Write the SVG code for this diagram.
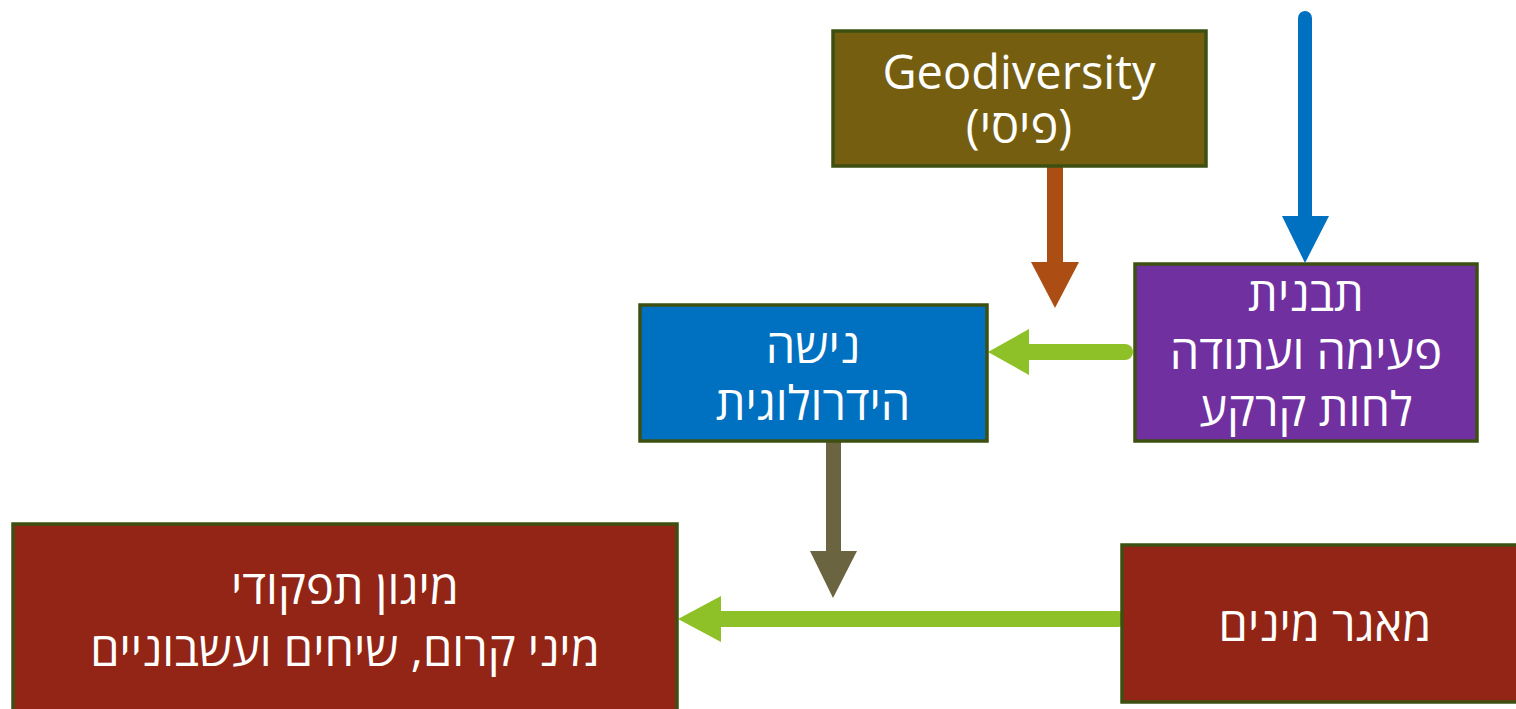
<svg xmlns="http://www.w3.org/2000/svg" width="1516" height="709" viewBox="0 0 1516 709">
<style>
.box{stroke:#3D5011;stroke-width:3.5}
.t{fill:#fff;font-family:"Open Sans","Noto Sans","DejaVu Sans",sans-serif;font-size:47px;text-anchor:middle}
</style>
<rect width="1516" height="709" fill="#fff"/>
<g id="connectors">
<rect x="1047" y="166" width="16" height="97" fill="#AC4E14"/>
<polygon points="1031,262 1079,262 1055,308" fill="#AC4E14"/>
<line x1="1305" y1="18" x2="1305" y2="220" stroke="#0070C0" stroke-width="14" stroke-linecap="round"/>
<polygon points="1282,216 1329,216 1305,263" fill="#0070C0"/>
<line x1="1125" y1="352" x2="1025" y2="352" stroke="#8DC127" stroke-width="16" stroke-linecap="round"/>
<polygon points="1029,329 1029,375 988,352" fill="#8DC127"/>
<rect x="826" y="441" width="15" height="112" fill="#6B6441"/>
<polygon points="810,551 857,551 833,598" fill="#6B6441"/>
<line x1="1118" y1="619" x2="715" y2="619" stroke="#8DC127" stroke-width="16" stroke-linecap="round"/>
<polygon points="721,596 721,642 678,619" fill="#8DC127"/>
</g>
<g id="geodiversity">
<rect class="box" x="833" y="31" width="373" height="135" fill="#755E10"/>
<text class="t" x="1019" y="89" font-size="48">Geodiversity</text>
<text class="t" x="1019" y="143">(פיסי)</text>
</g>
<g id="tavnit">
<rect class="box" x="1135" y="264" width="342" height="177" fill="#7030A0"/>
<text class="t" x="1306" y="311">תבנית</text>
<text class="t" x="1306" y="369">פעימה ועתודה</text>
<text class="t" x="1306" y="426">לחות קרקע</text>
</g>
<g id="nisha">
<rect class="box" x="640" y="305" width="347" height="136" fill="#0070C0"/>
<text class="t" x="813" y="363">נישה</text>
<text class="t" x="813" y="420">הידרולוגית</text>
</g>
<g id="migvan">
<rect class="box" x="13" y="524" width="664" height="190" fill="#922515"/>
<text class="t" x="345" y="604">מיגון תפקודי</text>
<text class="t" x="345" y="666">מיני קרום, שיחים ועשבוניים</text>
</g>
<g id="maagar">
<rect class="box" x="1122" y="545" width="400" height="157" fill="#922515"/>
<text class="t" x="1325" y="641">מאגר מינים</text>
</g>
</svg>
